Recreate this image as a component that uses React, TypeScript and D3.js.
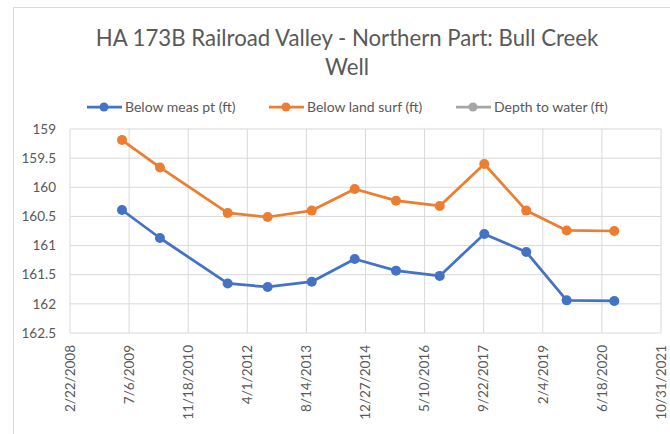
import React from 'react';
import * as d3 from 'd3';

const dates = [
  '2009-05-07', '2010-03-24', '2011-10-18', '2012-09-20', '2013-09-28', '2014-09-27',
  '2015-09-11', '2016-09-15', '2017-09-27', '2018-09-17', '2019-08-25', '2020-10-01',
];
const belowMeasPt = [160.39, 160.87, 161.65, 161.71, 161.62, 161.23, 161.43, 161.52, 160.8, 161.11, 161.94, 161.95];
const belowLandSurf = [159.19, 159.66, 160.44, 160.51, 160.4, 160.03, 160.23, 160.32, 159.6, 160.4, 160.74, 160.75];
const depthToWater: number[] = [];

const xTickLabels = [
  '2/22/2008', '7/6/2009', '11/18/2010', '4/1/2012', '8/14/2013', '12/27/2014',
  '5/10/2016', '9/22/2017', '2/4/2019', '6/18/2020', '10/31/2021',
];
const yTicks = [159, 159.5, 160, 160.5, 161, 161.5, 162, 162.5];

const seriesNames = ['Below meas pt (ft)', 'Below land surf (ft)', 'Depth to water (ft)'];
const colors = ['#4472c4', '#ed7d31', '#a5a5a5'];

const W = 670;
const H = 434;
const margin = { top: 129, right: 9, bottom: 101, left: 70 };
const font = 'Lato, "Noto Sans", sans-serif';
const textColor = '#595959';
const gridColor = '#d9d9d9';

export default function App() {
  const parseIso = d3.utcParse('%Y-%m-%d');
  const parseTick = d3.utcParse('%m/%d/%Y');
  const tickDates = xTickLabels.map(t => parseTick(t) as Date);

  const x = d3.scaleUtc()
    .domain([tickDates[0], tickDates[tickDates.length - 1]])
    .range([margin.left, W - margin.right]);
  const y = d3.scaleLinear()
    .domain([159, 162.5])
    .range([margin.top, H - margin.bottom]);

  const series = [belowMeasPt, belowLandSurf, depthToWater].map(vals =>
    vals.map((v, i) => ({ date: parseIso(dates[i]) as Date, value: v }))
  );

  const line = d3.line<{ date: Date; value: number }>()
    .x(d => x(d.date))
    .y(d => y(d.value));

  const legendX = [87, 269, 456];
  const legendY = 107;

  return (
    <svg width={W} height={H} style={{ position: 'absolute', left: 0, top: 0, background: '#fff' }}>
      <rect x={0} y={0} width={W} height={H} fill="#fff" />
      <rect x={13.5} y={7.5} width={W + 10} height={H + 10} fill="none" stroke={gridColor} />

      <text x={347} y={46} textAnchor="middle" fontFamily={font} fontSize={22.2} fill={textColor}>
        HA 173B Railroad Valley - Northern Part: Bull Creek
      </text>
      <text x={347} y={75} textAnchor="middle" fontFamily={font} fontSize={22.2} fill={textColor}>
        Well
      </text>

      {seriesNames.map((name, i) => (
        <g key={name}>
          <line x1={legendX[i]} x2={legendX[i] + 35} y1={legendY} y2={legendY} stroke={colors[i]} strokeWidth={2.75} />
          <circle cx={legendX[i] + 17} cy={legendY} r={4.5} fill={colors[i]} />
          <text x={legendX[i] + 38} y={legendY} dy="0.35em" fontFamily={font} fontSize={14} fill={textColor}>
            {name}
          </text>
        </g>
      ))}

      {yTicks.map(t => (
        <g key={t}>
          <line x1={margin.left} x2={W - margin.right} y1={y(t)} y2={y(t)} stroke={gridColor} strokeWidth={1} />
          <text x={56} y={y(t)} dy="0.35em" textAnchor="end" fontFamily={font} fontSize={13.5} fill={textColor}>
            {t}
          </text>
        </g>
      ))}

      {tickDates.map((d, i) => (
        <g key={xTickLabels[i]}>
          <line x1={x(d)} x2={x(d)} y1={margin.top} y2={H - margin.bottom} stroke={gridColor} strokeWidth={1} />
          <text
            transform={`translate(${x(d)},${H - margin.bottom + 12}) rotate(-90)`}
            dy="0.35em"
            textAnchor="end"
            fontFamily={font}
            fontSize={13.5}
            fill={textColor}
          >
            {xTickLabels[i]}
          </text>
        </g>
      ))}

      {series.map((s, i) => (
        <g key={seriesNames[i]}>
          {s.length > 0 && (
            <path d={line(s) || ''} fill="none" stroke={colors[i]} strokeWidth={2.75} strokeLinejoin="round" />
          )}
          {s.map((p, j) => (
            <circle key={j} cx={x(p.date)} cy={y(p.value)} r={5} fill={colors[i]} />
          ))}
        </g>
      ))}
    </svg>
  );
}
